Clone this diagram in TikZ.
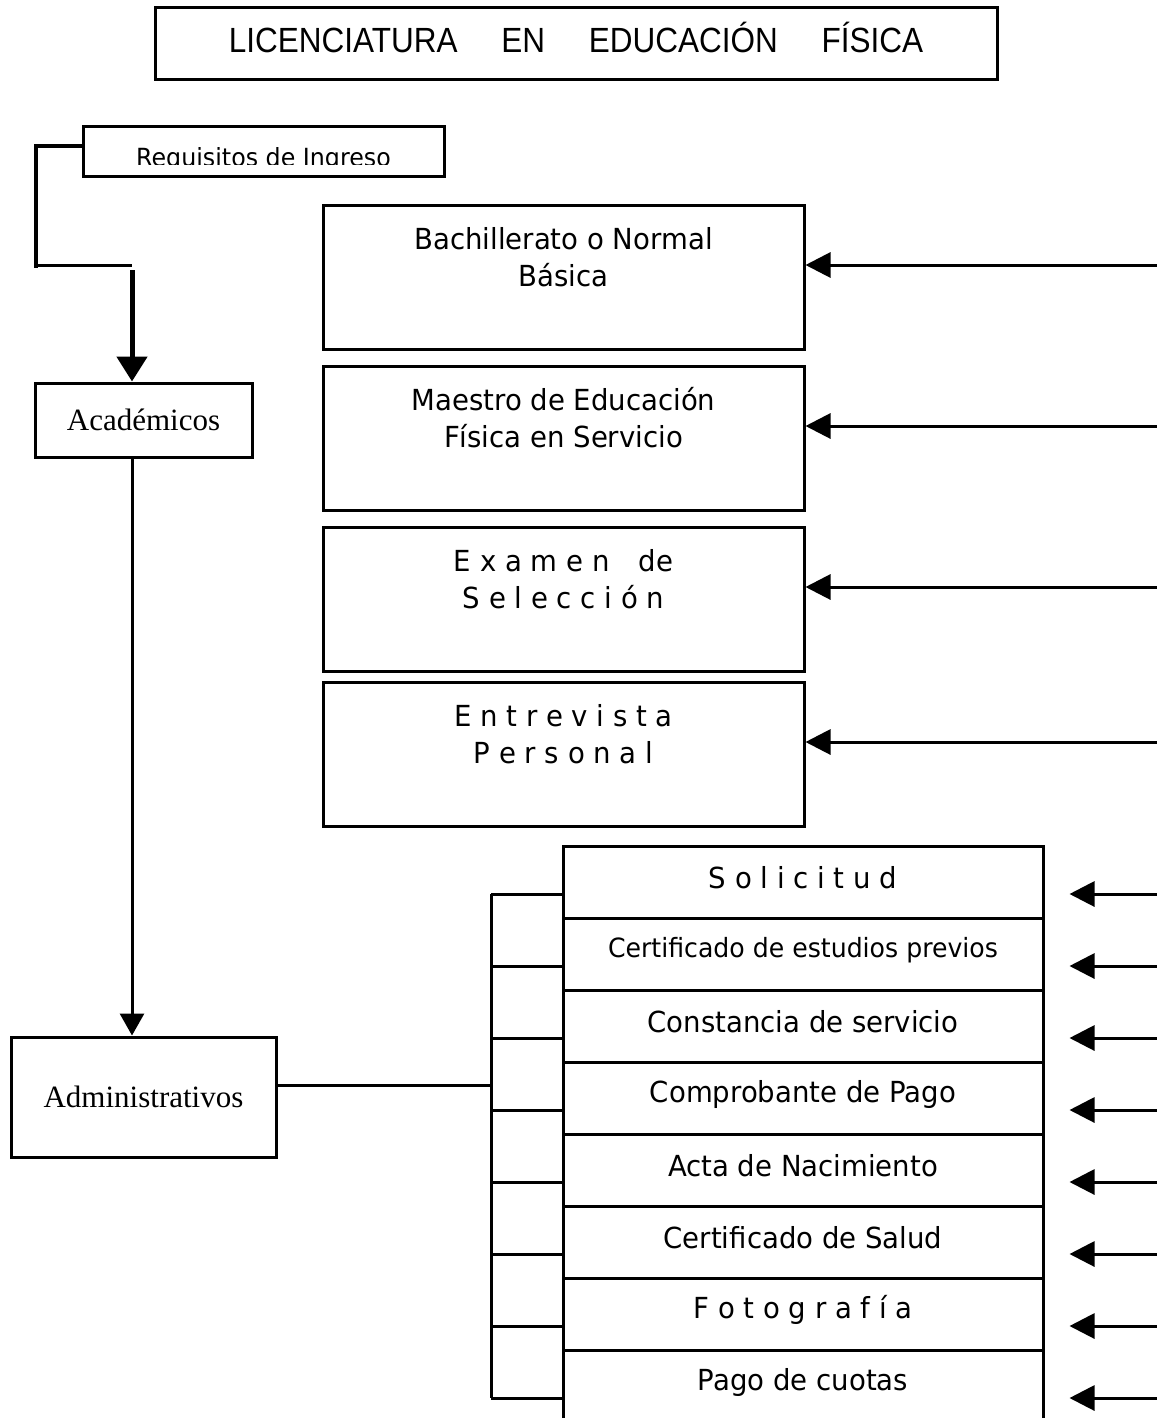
\documentclass[tikz,border=0pt]{standalone}
\usepackage{fontspec}
\setmainfont{Liberation Serif}
\newfontfamily\tahoma[FakeStretch=0.95]{DejaVu Sans}
\newfontfamily\titlefont[FakeStretch=0.9]{Liberation Sans}
\usetikzlibrary{arrows.meta}

\begin{document}
\begin{tikzpicture}[x=1pt,y=-1pt,line width=3pt,
    caja/.style={draw,line width=3pt,inner sep=0pt},
    fila/.style={caja,minimum width=480pt,minimum height=72pt},
    grande/.style={caja,minimum width=481pt,minimum height=144pt},
    flecha/.style={-{Triangle[length=25pt,width=25pt]}},
    texto/.style={font=\tahoma\fontsize{29}{37}\selectfont,align=center,inner sep=0pt}]
\useasboundingbox (0,0) rectangle (1156,1418);
\node[caja,minimum width=842pt,minimum height=72pt] (titulo) at (576,44) {};
\node[font=\titlefont\fontsize{35}{38}\selectfont,inner sep=0pt] (titulo-t) at ([yshift=7pt]titulo.center)
    {LICENCIATURA \quad EN \quad EDUCACIÓN \quad FÍSICA};
\node[caja,minimum width=361pt,minimum height=49pt] (req) at (263.5,151.5) {};
\begin{scope}
    \clip (req.north west) rectangle ([yshift=13pt]req.south east);
    \node[texto,font=\tahoma\fontsize{25}{28}\selectfont,anchor=base] (req-t) at (263.5,166) {Requisitos de Ingreso};
\end{scope}
\coordinate (codo) at (132,265);
\draw[line width=3.5pt] ([yshift=5.5pt]req.west) -- (36,146) -- (36,268);
\draw (36,265) -- (codo);
\node[caja,minimum width=217pt,minimum height=74pt,font=\fontsize{31}{36}\selectfont] (acad) at (143.5,420) {Académicos};
\node[caja,minimum width=265pt,minimum height=120pt,font=\fontsize{31}{36}\selectfont] (admin) at (143.5,1097) {Administrativos};
\draw[line width=5pt,-{Triangle[length=25pt,width=30pt]}] ([yshift=-5pt]codo) -- (acad.north -| codo);
\draw[-{Triangle[length=22pt,width=24pt]}] (acad.south -| codo) -- (admin.north -| codo);
\foreach \txt/\y [count=\i] in {{Bachillerato o Normal\\Básica}/277,{Maestro de Educación\\Física en Servicio}/438,
        {E x a m e n\quad de\\S e l e c c i ó n}/599,{E n t r e v i s t a\\P e r s o n a l}/754} {
    \node[grande] (b\i) at (563.5,\y) {};
    \node[texto] (b\i-t) at ([yshift=20pt]b\i.center) {\txt};
    \coordinate (g\i) at (1160,\y-12);
    \draw[flecha] (g\i) -- (b\i.east |- g\i);
}
\draw ([yshift=12pt]admin.east) -- (491,1085);
\draw (491,894) -- (491,1398);
\foreach \txt/\tam [count=\i] in {S o l i c i t u d/29,Certificado de estudios previos/26.5,Constancia de servicio/29,
        Comprobante de Pago/29,Acta de Nacimiento/29,Certificado de Salud/29,F o t o g r a f í a/29,Pago de cuotas/29} {
    \node[fila] (r\i) at (803,810+72*\i) {};
    \node[texto,font=\tahoma\fontsize{\tam}{\tam}\selectfont] (r\i-t) at ([yshift=4pt]r\i.center) {\txt};
    \coordinate (f\i) at (1160,822+72*\i);
    \draw[flecha] (f\i) -- ([xshift=25pt]r\i.east |- f\i);
    \draw (491,822+72*\i) -- (r\i.west |- f\i);
}
\end{tikzpicture}
\end{document}
